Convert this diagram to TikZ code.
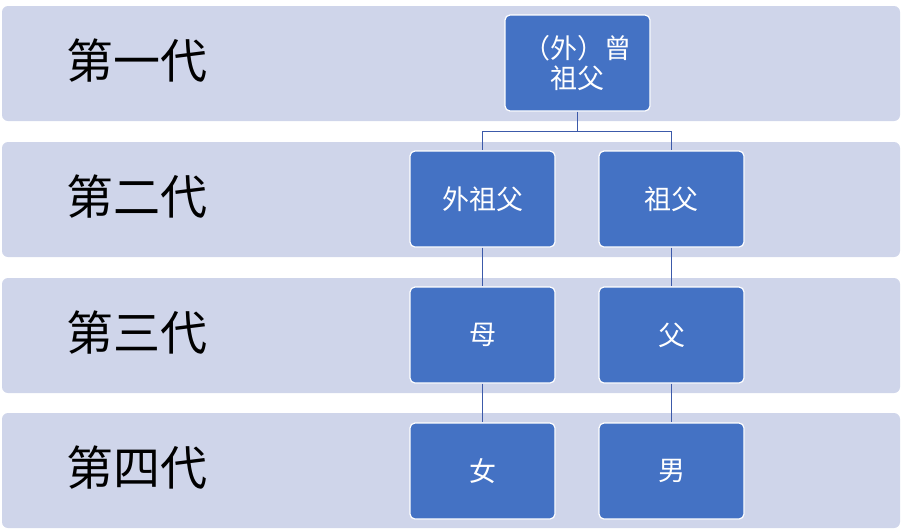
\documentclass[tikz,border=0pt]{standalone}
\usepackage{fontspec}
\newfontfamily\cjk{Noto Sans CJK SC}
\definecolor{band}{RGB}{207,213,234}
\definecolor{boxc}{RGB}{68,114,196}
\definecolor{linec}{RGB}{60,90,170}
\begin{document}
\begin{tikzpicture}[x=1pt,y=-1pt,
  bandbox/.style={fill=band,rounded corners=6pt},
  pbox/.style={draw=white,line width=1.2pt,fill=boxc,rounded corners=5pt,minimum width=145pt,minimum height=96pt,text=white,font=\cjk\fontsize{27}{30}\selectfont,align=center,inner sep=0pt},
  glabel/.style={font=\cjk\fontsize{47}{52}\selectfont,text=black},
  conn/.style={draw=linec,line width=0.9pt}]
\useasboundingbox (0,0) rectangle (902,531);
\foreach \y/\t [count=\i] in {6/第一代,142/第二代,278/第三代,413/第四代}{
  \path[bandbox] (2,\y) rectangle (900,\y+115);
  \node[glabel] (L\i) at (137,\y+55) {\t};
}
\node[pbox] (g) at (577.5,63) {（外）曾\\祖父};
\node[pbox] (mgf) at (482.5,199) {外祖父};
\node[pbox] (gf) at (671.5,199) {祖父};
\node[pbox] (m) at (482.5,335) {母};
\node[pbox] (f) at (671.5,335) {父};
\node[pbox] (d) at (482.5,471) {女};
\node[pbox] (s) at (671.5,471) {男};
\coordinate (j) at (577.5,131);
\draw[conn] (g.south) -- (j) -| (mgf.north);
\draw[conn] (j) -| (gf.north);
\draw[conn] (mgf) -- (m);
\draw[conn] (m) -- (d);
\draw[conn] (gf) -- (f);
\draw[conn] (f) -- (s);
\end{tikzpicture}
\end{document}
